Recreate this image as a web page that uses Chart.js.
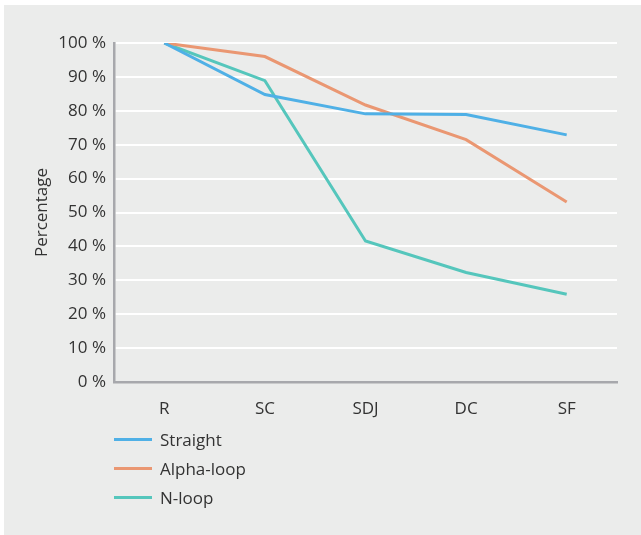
<html>
<head>
<style>
    body { margin: 0; background: #fff; font-family: "Open Sans", sans-serif; }
    #panel { position: absolute; left: 4px; top: 5px; width: 637px; height: 530px; background: #ebeceb; }
    #line { position: absolute; left: 0; top: 0; }
    #legend { position: absolute; left: 110px; top: 420px; color: #333; font-size: 17px; }
    .item { height: 29px; display: flex; align-items: center; }
    .swatch { width: 38px; height: 3px; margin-right: 8px; }
</style>
</head>
<body>
    <div id="panel">
        <canvas id="line" width="637" height="530"></canvas>
        <div id="legend"></div>
    </div>
</body>
<script src="https://cdn.jsdelivr.net/npm/chart.js"></script>
<script>
    const stages = ['R', 'SC', 'SDJ', 'DC', 'SF']
    const straight = [100, 84.8, 79.1, 78.9, 72.9]
    const alphaLoop = [100, 96.0, 81.7, 71.5, 53.1]
    const nLoop = [100, 88.9, 41.6, 32.3, 25.9]
    const yTicks = [0, 10, 20, 30, 40, 50, 60, 70, 80, 90, 100]

    const ctx = document.getElementById('line');
    const chart = new Chart(ctx, {
        type: 'line',
        data: {
            labels: stages,
            datasets: [
                { label: 'Straight', data: straight, borderColor: '#4fb0e6' },
                { label: 'Alpha-loop', data: alphaLoop, borderColor: '#ea9772' },
                { label: 'N-loop', data: nLoop, borderColor: '#55c6bc' }
            ]
        },
        options: {
            responsive: false,
            animation: false,
            devicePixelRatio: 1,
            layout: { padding: { left: 0, right: 24, top: 38, bottom: 0 } },
            elements: {
                line: { borderWidth: 3, tension: 0 },
                point: { radius: 0 }
            },
            plugins: {
                legend: { display: false },
                tooltip: { enabled: false }
            },
            scales: {
                x: {
                    offset: true,
                    grid: { display: false },
                    border: { color: '#a7a8ac', width: 2.5 },
                    ticks: { color: '#333', font: { family: 'Open Sans', size: 17 }, padding: 9 },
                    afterFit: (s) => { s.height = 153 }
                },
                y: {
                    min: 0,
                    max: 100,
                    afterBuildTicks: (s) => { s.ticks = yTicks.map(v => ({ value: v })) },
                    grid: { color: '#ffffff', lineWidth: 2, drawTicks: false },
                    border: { color: '#a7a8ac', width: 2.5 },
                    ticks: {
                        color: '#333', font: { family: 'Open Sans', size: 17 }, padding: 8,
                        autoSkip: false,
                        callback: (v) => v + ' %'
                    },
                    title: {
                        display: true, text: 'Percentage', color: '#333',
                        font: { family: 'Open Sans', size: 17 }, padding: { top: 28, bottom: 0 }
                    },
                    afterFit: (s) => { s.width = 110 }
                }
            }
        }
    });

    // legend stacked under the axis
    const leg = document.getElementById('legend')
    chart.data.datasets.forEach(ds => {
        const row = document.createElement('div')
        row.className = 'item'
        row.innerHTML = '<span class="swatch" style="background:' + ds.borderColor + '"></span>' + ds.label
        leg.appendChild(row)
    })
</script>
</html>
